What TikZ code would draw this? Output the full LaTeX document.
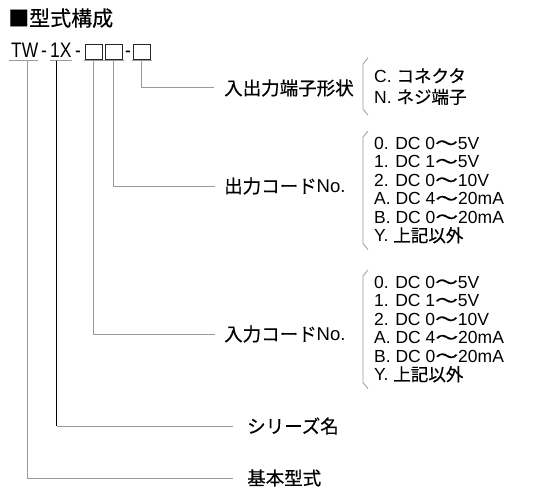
\documentclass[tikz,border=0pt]{standalone}
\usepackage{fontspec}
\setmainfont{Liberation Sans}
\newfontfamily\cjk[FakeBold=0.4]{Noto Sans CJK JP}
\newfontfamily\codefont[FakeStretch=0.83]{Liberation Sans}
\newcommand{\jp}[1]{{\cjk #1}}
\newcommand{\wave}{\jp{\scalebox{1.3}[1]{〜}}}
\usetikzlibrary{positioning,calc}
\definecolor{linegray}{HTML}{9A9A9A}

\begin{document}
\begin{tikzpicture}[x=1pt,y=-1pt,
  conn/.style={draw=linegray, line width=1pt},
  lbl/.style={anchor=west, inner xsep=0pt, font=\fontsize{18.5}{20}\selectfont},
  codelist/.style={anchor=north west, align=left, inner xsep=11pt, inner ysep=6pt, font=\fontsize{17.5}{18.5}\selectfont},
  part/.style={anchor=base west, inner sep=0pt, font=\codefont\fontsize{21}{22}\selectfont},
  slot/.style={draw=black!85, line width=0.7pt, minimum width=17pt, minimum height=15pt, inner sep=0pt, anchor=south west}
]
\useasboundingbox (0,0) rectangle (534,500);

% heading
\node[anchor=base west, inner sep=0pt, font=\fontsize{21}{24}\selectfont] (title) at (8,26) {\jp{■型式構成}};

% model code TW-1X-[][]-[]
\node[part] (tw) at (11,58) {TW};
\node[part] (dasha) at (41,58) {-};
\node[part] (sx) at (50,58) {1X};
\node[part] (dashb) at (75,58) {-};
\node[slot] (slotin) at (85,60) {};
\node[slot] (slotout) at (105,60) {};
\node[part] (dashc) at (125,58) {-};
\node[slot] (slotterm) at (133,60) {};

% underlines
\draw[conn] ($(tw.base west)+(-2,3)$) -- ($(tw.base east)+(0,3)$);
\draw[conn] ($(sx.base west)+(0,3)$) -- ($(sx.base east)+(0,3)$);
\foreach \s in {slotin,slotout,slotterm}
  \draw[conn] ([xshift=-1pt,yshift=-1pt]\s.south west) -- ([xshift=1pt,yshift=-1pt]\s.south east);

% labels
\node[lbl] (termlbl) at (224,88) {\jp{入出力端子形状}};
\node[lbl] (outlbl) at (224,186) {\jp{出力コード}No.};
\node[lbl] (inlbl) at (224,334) {\jp{入力コード}No.};
\node[lbl] (serieslbl) at (247,426) {\jp{シリーズ名}};
\node[lbl] (baselbl) at (247,478) {\jp{基本型式}};

% code lists
\node[codelist, inner ysep=10pt, font=\fontsize{17.5}{21}\selectfont] (termlist) at (363,58) {C. \jp{コネクタ}\\N. \jp{ネジ端子}};
\node[codelist] (outlist) at (363,131) {0. DC 0\wave5V\\1. DC 1\wave5V\\2. DC 0\wave10V\\A. DC 4\wave20mA\\B. DC 0\wave20mA\\Y. \jp{上記以外}};
\node[codelist] (inlist) at (363,270) {0. DC 0\wave5V\\1. DC 1\wave5V\\2. DC 0\wave10V\\A. DC 4\wave20mA\\B. DC 0\wave20mA\\Y. \jp{上記以外}};

% brackets
\foreach \l in {termlist,outlist,inlist}
  \draw[conn, line width=0.8pt] ([xshift=5pt]\l.north west) -- ([yshift=-6pt]\l.north west)
    -- ([yshift=6pt]\l.south west) -- ([xshift=5pt]\l.south west);

% connectors
\coordinate (twfoot) at ($(tw.base)+(3,3)$);
\coordinate (sxfoot) at ($(sx.base)+(-4,3)$);
\draw[conn] (slotterm.south) |- ([xshift=-10pt]termlbl.west);
\draw[conn] (slotout.south) |- ([xshift=-9pt]outlbl.west);
\draw[conn] (slotin.south) |- ([xshift=-9pt]inlbl.west);
\draw[line width=1pt] (sxfoot) -- (sxfoot |- serieslbl.west);
\draw[conn] (sxfoot |- serieslbl.west) -- ([xshift=-14pt]serieslbl.west);
\draw[conn] (twfoot) |- ([xshift=-14pt]baselbl.west);
\end{tikzpicture}
\end{document}
